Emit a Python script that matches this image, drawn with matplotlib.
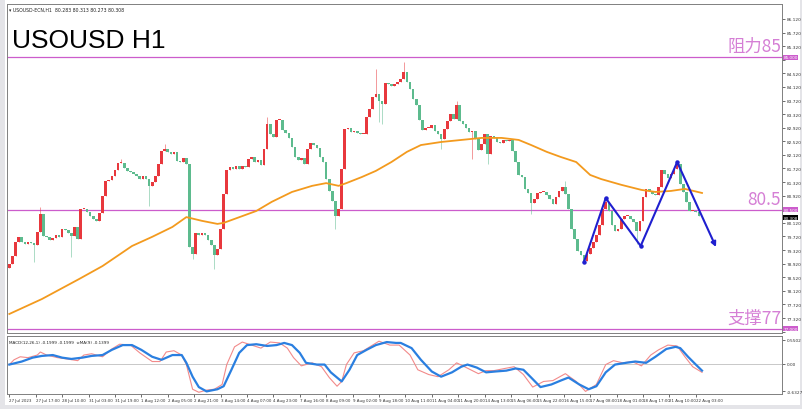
import numpy as np
import matplotlib.pyplot as plt
from matplotlib.patches import Rectangle

# 2-hour closes (27 Jul 2023 -> 22 Aug 2023)
closes = [78.91, 79.15, 79.56, 79.71, 79.56, 79.50, 79.56, 79.53, 79.47, 79.85,
          80.38, 79.74, 79.71, 79.62, 79.68, 79.76, 79.71, 79.94, 79.91, 79.82,
          79.74, 80.00, 79.65, 80.53, 80.53, 80.44, 80.32, 80.24, 80.18, 80.41,
          80.91, 81.35, 81.38, 81.50, 81.68, 81.88, 81.88, 81.74, 81.65, 81.62,
          81.56, 81.50, 81.41, 81.50, 81.41, 81.21, 81.32, 81.50, 81.85, 82.24,
          82.29, 82.21, 82.15, 82.21, 81.94, 81.91, 82.03, 81.85, 79.41, 79.21,
          79.82, 79.76, 79.82, 79.76, 79.62, 79.47, 79.18, 79.35, 79.94, 80.97,
          81.68, 81.76, 81.71, 81.79, 81.71, 81.79, 81.76, 82.00, 82.06, 81.91,
          81.97, 81.82, 82.29, 83.03, 82.74, 82.65, 83.15, 83.15, 82.85, 82.76,
          82.62, 82.35, 82.06, 81.97, 82.03, 81.85, 82.29, 82.47, 82.41, 82.32,
          82.06, 81.91, 81.41, 81.06, 80.76, 80.32, 80.53, 81.71, 82.88, 82.91,
          82.79, 82.82, 82.76, 82.74, 82.74, 83.24, 83.47, 83.82, 83.91, 83.71,
          83.62, 84.24, 84.21, 84.15, 84.21, 84.26, 84.35, 84.56, 84.26, 84.06,
          83.76, 83.59, 83.15, 82.85, 82.91, 82.91, 83.00, 82.82, 82.74, 82.59,
          82.88, 83.12, 83.32, 83.18, 83.59, 83.12, 83.03, 82.91, 82.79, 82.82,
          82.59, 82.26, 82.44, 82.74, 82.15, 82.68, 82.62, 82.50, 82.47, 82.56,
          82.53, 82.56, 82.24, 81.91, 81.53, 81.47, 81.12, 81.00, 80.71, 80.82,
          81.00, 81.03, 81.03, 80.94, 80.82, 80.68, 80.88, 81.06, 81.18, 80.97,
          80.53, 79.94, 79.65, 79.29, 79.18, 79.00, 79.21, 79.38, 79.56, 79.76,
          80.06, 80.53, 80.74, 80.47, 80.06, 79.88, 79.94, 80.24, 80.32, 80.32,
          80.24, 80.15, 79.88, 80.18, 80.88, 81.12, 81.06, 80.97, 80.94, 81.18,
          81.68, 81.56, 81.44, 81.56, 81.71, 81.85, 81.26, 81.03, 80.74, 80.47,
          80.47, 80.44, 80.31]
first_open = 78.80
bar_hours = 2

# long wicks (bar number, extreme price)
spike_bars = [8, 10, 20, 36, 45, 50, 59, 66, 83, 105, 118, 119, 120, 127, 139,
              144, 149, 154, 168, 179, 185, 192, 202, 215]
spike_prices = [78.97, 80.59, 79.12, 82.00, 80.62, 82.44, 79.06, 78.76, 83.24,
                79.94, 84.65, 83.09, 83.03, 84.85, 82.29, 83.71, 82.00, 81.85,
                80.38, 81.35, 78.97, 80.85, 79.50, 81.91]

# moving average (hours from start, price)
ma_hours = [0, 21, 45, 60, 79, 92, 105, 114, 124, 134, 138, 150, 159, 169, 182,
            195, 204, 212, 217, 227, 236, 246, 256, 265, 278, 291, 304, 317, 328,
            336, 346, 355, 365, 374, 381, 394, 407, 416, 426, 435, 446]
ma_values = [77.44, 77.88, 78.47, 78.85, 79.44, 79.71, 80.00, 80.29, 80.18, 80.09,
             80.12, 80.32, 80.47, 80.74, 81.03, 81.21, 81.29, 81.21, 81.29, 81.47,
             81.65, 81.91, 82.21, 82.41, 82.50, 82.56, 82.62, 82.62, 82.56, 82.41,
             82.21, 82.06, 81.91, 81.53, 81.41, 81.24, 81.09, 81.03, 81.06, 81.12,
             81.00]

# zigzag pattern drawn on the chart
zig_hours = [370, 384, 406.5, 430, 455]
zig_prices = [78.97, 80.85, 79.44, 81.91, 79.41]

levels = [85.0, 80.5, 77.0]
level_text = ['阻力85', '80.5', '支撑77']
last_price = 80.308

# MACD panel
sig_hours = [0, 8, 15, 21, 28, 34, 40, 47, 53, 60, 66, 73, 79, 85, 92, 98, 105,
             111, 114, 118, 122, 127, 134, 138, 143, 148, 153, 159, 166, 172, 177,
             182, 187, 191, 198, 203, 207, 214, 219, 224, 230, 236, 243, 249, 252,
             259, 265, 272, 278, 285, 291, 295, 301, 307, 313, 320, 326, 331, 336,
             342, 349, 355, 360, 367, 373, 378, 384, 390, 397, 403, 410, 416, 423,
             429, 432, 437, 442, 446]
sig_values = [-0.02, 0.05, 0.14, 0.18, 0.20, 0.14, 0.11, 0.14, 0.18, 0.20, 0.32,
              0.43, 0.43, 0.32, 0.16, 0.09, 0.20, 0.20, 0.02, -0.30, -0.54, -0.64,
              -0.59, -0.52, -0.14, 0.25, 0.43, 0.45, 0.41, 0.43, 0.48, 0.43, 0.25,
              0.02, -0.02, -0.02, -0.20, -0.41, -0.14, 0.20, 0.32, 0.43, 0.50, 0.48,
              0.48, 0.36, 0.09, -0.18, -0.30, -0.20, -0.07, -0.02, -0.09, -0.20,
              -0.18, -0.16, -0.11, -0.14, -0.32, -0.54, -0.48, -0.39, -0.32, -0.48,
              -0.59, -0.52, -0.20, -0.02, 0.02, 0.05, 0.02, 0.16, 0.34, 0.39, 0.36,
              0.16, -0.02, -0.16]
macd_hours = [0, 3, 7, 12, 18, 20, 24, 31, 37, 44, 48, 53, 60, 66, 71, 78, 84,
              92, 97, 101, 106, 111, 114, 118, 122, 127, 132, 137, 140, 145, 150,
              156, 162, 168, 174, 179, 183, 188, 195, 201, 206, 211, 214, 217, 222,
              228, 233, 238, 245, 251, 258, 263, 270, 276, 283, 288, 292, 297, 302,
              307, 312, 319, 325, 331, 337, 344, 350, 358, 365, 371, 378, 384, 389,
              395, 401, 407, 413, 418, 424, 430, 435, 440, 446]
macd_values = [-0.02, 0.09, 0.16, 0.14, 0.20, 0.27, 0.20, 0.14, 0.11, 0.07, 0.20,
               0.23, 0.16, 0.34, 0.45, 0.43, 0.25, 0.05, 0.05, 0.27, 0.30, 0.20,
               -0.02, -0.59, -0.66, -0.61, -0.59, -0.48, -0.02, 0.39, 0.50, 0.43,
               0.36, 0.50, 0.48, 0.36, 0.14, -0.05, 0.02, -0.07, -0.32, -0.52,
               -0.41, -0.02, 0.25, 0.30, 0.41, 0.52, 0.43, 0.43, 0.20, -0.14,
               -0.25, -0.30, -0.14, 0.02, -0.05, -0.14, -0.23, -0.16, -0.16,
               -0.11, -0.07, -0.25, -0.54, -0.41, -0.39, -0.23, -0.41, -0.64,
               -0.48, -0.02, 0.07, 0.02, 0.05, -0.05, 0.20, 0.32, 0.43, 0.41,
               0.16, -0.07, -0.20]

date_labels = ['27 Jul 2023', '27 Jul 17:00', '28 Jul 10:00', '31 Jul 03:00',
               '31 Jul 19:00', '1 Aug 12:00', '2 Aug 05:00', '2 Aug 21:00',
               '3 Aug 14:00', '4 Aug 07:00', '4 Aug 23:00', '7 Aug 16:00',
               '8 Aug 09:00', '9 Aug 02:00', '9 Aug 18:00', '10 Aug 11:00',
               '11 Aug 04:00', '11 Aug 20:00', '14 Aug 13:00', '15 Aug 06:00',
               '15 Aug 22:00', '16 Aug 15:00', '17 Aug 08:00', '18 Aug 01:00',
               '18 Aug 17:00', '21 Aug 10:00', '22 Aug 03:00']
label_step = 17

W, H = 802, 410
fig = plt.figure(figsize=(W / 100, H / 100), dpi=100)
fig.patch.set_facecolor('#e4e4e8')
bg = Rectangle((5 / W, 1 - 406 / H), 795 / W, 406 / H,
               transform=fig.transFigure, facecolor='white',
               edgecolor='none', zorder=-10)
fig.patches.append(bg)

ax = fig.add_axes([7 / W, 1 - 334 / H, 775 / W, 329 / H])
mx = fig.add_axes([7 / W, 1 - 395 / H, 775 / W, 58 / H], sharex=ax)

grey = '#808080'
for a in (ax, mx):
    a.set_zorder(2)
    a.set_facecolor('white')
    for s in a.spines.values():
        s.set_color(grey)
        s.set_linewidth(0.7)
    a.yaxis.tick_right()
    a.tick_params(axis='both', labelsize=3.1, length=2, width=0.5,
                  colors='#333333', pad=1.2)

# candles
c = np.array(closes)
o = np.concatenate([[first_open], c[:-1]])
hi = np.maximum(o, c)
lo = np.minimum(o, c)
body_lo = lo.copy()
for b, p in zip(spike_bars, spike_prices):
    hi[b] = max(hi[b], p)
    lo[b] = min(lo[b], p)
t = np.arange(len(c)) * bar_hours
up = c >= o
cols = np.where(up, '#e8383d', '#5dbb8e')
ax.vlines(t, lo, hi, colors=cols, lw=0.6, alpha=0.6, zorder=2)
body = np.maximum(np.abs(c - o), 0.025)
ax.bar(t, body, bottom=body_lo, width=1.7, color=cols, linewidth=0, zorder=3)

ax.plot(ma_hours, ma_values, color='#f39a1e', lw=1.3, zorder=4)

# support / resistance
for lv in levels:
    ax.axhline(lv, color='#cc5ccc', lw=0.9, zorder=1)
cjk = ['Noto Sans CJK SC', 'DejaVu Sans']
for lv, txt in zip(levels, level_text):
    ax.text(0.999, lv + 0.06, txt, transform=ax.get_yaxis_transform(),
            ha='right', va='bottom', fontsize=12.5, color='#d57fd5',
            family=cjk, zorder=5)

# zigzag
ax.plot(zig_hours[:-1], zig_prices[:-1], color='#1f1fcf', lw=1.5, zorder=6,
        marker='o', markersize=2.2)
ax.annotate('', xy=(zig_hours[-1], zig_prices[-1]),
            xytext=(zig_hours[-2], zig_prices[-2]),
            arrowprops=dict(arrowstyle='-|>', color='#1f1fcf', lw=1.5,
                            mutation_scale=7, shrinkA=0, shrinkB=0), zorder=6)

ax.set_xlim(-1.5, 497.5)
ax.set_ylim(76.88, 86.56)
yt = np.arange(76.92, 86.2, 0.4)
ax.set_yticks(yt)
# labels hidden under the level boxes are left blank
ax.set_yticklabels(['' if min(abs(v - lv) for lv in levels) < 0.1 else '%.3f' % v
                    for v in yt])
ax.tick_params(axis='x', labelbottom=False, length=0)

ytr = ax.get_yaxis_transform()
for lv in levels:
    ax.text(1.002, lv, '%.3f' % lv, transform=ytr, ha='left', va='center',
            fontsize=3.0, color='white', zorder=7, clip_on=False,
            bbox=dict(boxstyle='square,pad=0.12', fc='#cc5ccc', ec='none'))
ax.text(1.002, last_price - 0.03, '%.3f' % last_price, transform=ytr, ha='left',
        va='center', fontsize=3.0, color='white', zorder=7, clip_on=False,
        bbox=dict(boxstyle='square,pad=0.12', fc='black', ec='none'))

ax.text(0.003, 1 - 5 / 329, '▾ USOUSD-ECN,H1  80.283 80.313 80.273 80.308',
        transform=ax.transAxes, fontsize=3.3, va='center', color='#222222')
ax.text(5 / 775, 1 - 43 / 329, 'USOUSD H1', fontsize=19, va='baseline',
        transform=ax.transAxes, family='Liberation Sans', color='black')

# MACD
mx.axhline(0, color='#c8c8c8', lw=0.7)
mx.plot(macd_hours, macd_values, color='#f28a8a', lw=0.8)
mx.plot(sig_hours, sig_values, color='#2a7fe0', lw=1.6)
mx.set_ylim(-0.70, 0.64)
mx.set_yticks([0.5502, 0.0, -0.6327])
mx.set_yticklabels(['0.5502', '0.00', '-0.6327'])
mx.text(0.003, 0.93, 'MACD(12,26,1) -0.1999 -0.1999  ∞MA(9) -0.1399',
        transform=mx.transAxes, fontsize=3.0, va='top', color='#222222')
xt = np.arange(len(date_labels)) * label_step
mx.set_xticks(xt)
mx.set_xticklabels(date_labels, ha='left', fontsize=2.9)

fig.savefig('out.png', dpi=100, facecolor=fig.get_facecolor())
